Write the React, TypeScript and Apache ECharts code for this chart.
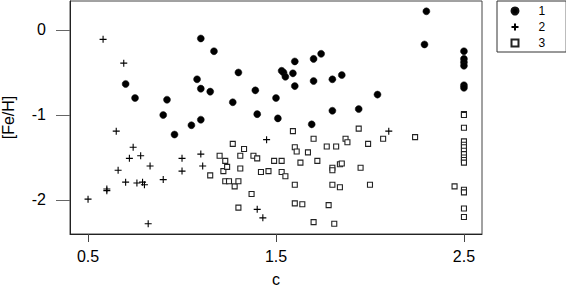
import React, { useEffect, useRef } from "react";
import * as echarts from "echarts";

const groupNames = ["1", "2", "3"];

const x1 = [0.70, 0.75, 0.90, 0.92, 0.96, 1.05, 1.08, 1.10, 1.10, 1.10, 1.15, 1.17, 1.27, 1.30, 1.39, 1.40, 1.50, 1.51, 1.53, 1.54, 1.55, 1.59, 1.60, 1.60, 1.69, 1.70, 1.70, 1.74, 1.80, 1.80, 1.85, 1.94, 2.04, 2.29, 2.30, 2.5, 2.5, 2.5, 2.5, 2.5, 2.5];
const y1 = [-0.635, -0.80, -1.00, -0.82, -1.23, -1.12, -0.58, -0.10, -0.69, -1.055, -0.725, -0.25, -0.85, -0.50, -0.71, -0.99, -0.80, -1.04, -0.48, -0.50, -0.55, -0.51, -0.37, -0.66, -1.11, -0.34, -0.60, -0.28, -0.58, -0.95, -0.53, -0.93, -0.76, -0.17, 0.22, -0.25, -0.34, -0.38, -0.42, -0.65, -0.68];

const x2 = [0.50, 0.58, 0.60, 0.60, 0.65, 0.66, 0.69, 0.70, 0.72, 0.74, 0.76, 0.78, 0.79, 0.80, 0.82, 0.83, 0.90, 1.00, 1.00, 1.10, 1.11, 1.40, 1.43, 1.45, 2.10];
const y2 = [-1.99, -0.11, -1.87, -1.89, -1.19, -1.65, -0.39, -1.79, -1.51, -1.38, -1.80, -1.48, -1.79, -1.82, -2.28, -1.60, -1.76, -1.51, -1.66, -1.46, -1.60, -2.11, -2.21, -1.29, -1.19];

const x3 = [1.15, 1.20, 1.22, 1.23, 1.23, 1.24, 1.25, 1.27, 1.28, 1.30, 1.30, 1.31, 1.31, 1.33, 1.37, 1.38, 1.40, 1.42, 1.46, 1.49, 1.53, 1.53, 1.55, 1.59, 1.60, 1.60, 1.60, 1.61, 1.63, 1.64, 1.67, 1.70, 1.70, 1.72, 1.77, 1.78, 1.80, 1.80, 1.80, 1.81, 1.82, 1.84, 1.84, 1.85, 1.87, 1.88, 1.94, 1.95, 1.99, 2.00, 2.07, 2.24, 2.45, 2.5, 2.5, 2.5, 2.5, 2.5, 2.5, 2.5, 2.5, 2.5, 2.5, 2.5, 2.5, 2.5, 2.5, 2.5];
const y3 = [-1.71, -1.48, -1.66, -1.54, -1.78, -1.61, -1.78, -1.34, -1.84, -1.78, -2.09, -1.48, -1.63, -1.40, -1.93, -1.48, -1.51, -1.67, -1.66, -1.54, -1.54, -1.67, -1.72, -1.19, -1.38, -1.82, -2.04, -1.43, -1.56, -2.05, -1.44, -1.28, -2.26, -1.54, -1.37, -2.06, -1.62, -1.65, -1.82, -2.28, -1.37, -1.58, -1.85, -1.57, -1.28, -1.32, -1.16, -1.62, -1.34, -1.82, -1.28, -1.26, -1.84, -0.99, -1.00, -1.15, -1.31, -1.35, -1.38, -1.42, -1.46, -1.50, -1.53, -1.56, -1.88, -1.91, -2.10, -2.20];

const xTicks = [0.5, 1.5, 2.5];
const yTicks = [0, -1, -2];

const pairs = (xs: number[], ys: number[]) => xs.map((x, i) => [x, ys[i]]);

const FONT = "'Liberation Sans', Arial, Helvetica, sans-serif";

export default function App() {
  const ref = useRef<HTMLDivElement>(null);
  useEffect(() => {
    if (!ref.current) return;
    document.body.style.margin = "0";
    const chart = echarts.init(ref.current, undefined, { renderer: "svg" });
    chart.setOption({
      animation: false,
      backgroundColor: "#ffffff",
      textStyle: { fontFamily: FONT },
      grid: {
        left: 70,
        right: 84,
        top: 1,
        bottom: 53,
        show: true,
        borderColor: "#444",
        borderWidth: 1,
        containLabel: false,
        outerBoundsMode: "none",
      },
      legend: {
        orient: "vertical",
        left: 497,
        top: 1,
        data: groupNames,
        itemWidth: 7,
        itemHeight: 7,
        itemGap: 2,
        padding: [3, 21, 2, 12],
        borderColor: "#333",
        borderWidth: 1,
        inactiveColor: "#000",
        textStyle: {
          fontFamily: FONT,
          fontSize: 12,
          color: "#000",
          lineHeight: 14,
          padding: [0, 0, 0, 15],
        },
      },
      xAxis: {
        type: "value",
        min: 0.404,
        max: 2.596,
        name: "c",
        nameLocation: "middle",
        nameGap: 37,
        nameTextStyle: { fontFamily: FONT, fontSize: 16, color: "#000" },
        splitLine: { show: false },
        axisLine: { show: true, onZero: false, lineStyle: { color: "#222", width: 1 } },
        axisTick: {
          show: true,
          length: 8,
          customValues: xTicks,
          lineStyle: { color: "#444" },
        },
        axisLabel: {
          customValues: xTicks,
          margin: 14,
          fontFamily: FONT,
          fontSize: 16,
          color: "#000",
          formatter: (v: number) => v.toFixed(1),
        },
      },
      yAxis: {
        type: "value",
        min: -2.4,
        max: 0.341,
        name: "[Fe/H]",
        nameLocation: "middle",
        nameGap: 54,
        nameRotate: 90,
        nameTextStyle: { fontFamily: FONT, fontSize: 16, color: "#000" },
        splitLine: { show: false },
        axisLine: { show: true, onZero: false, lineStyle: { color: "#222", width: 1 } },
        axisTick: {
          show: true,
          length: 14,
          customValues: yTicks,
          lineStyle: { color: "#666" },
        },
        axisLabel: {
          customValues: yTicks,
          margin: 24,
          fontFamily: FONT,
          fontSize: 16,
          color: "#000",
          formatter: (v: number) => String(v),
        },
      },
      series: [
        {
          name: groupNames[0],
          type: "scatter",
          data: pairs(x1, y1),
          symbol: "circle",
          symbolSize: 7,
          itemStyle: { color: "#000", borderColor: "#111", borderWidth: 0.5, opacity: 1 },
        },
        {
          name: groupNames[1],
          type: "scatter",
          data: pairs(x2, y2),
          symbol: "path://M0,5L10,5M5,0L5,10",
          symbolSize: 7,
          itemStyle: { color: "none", borderColor: "#000", borderWidth: 1.1, opacity: 1 },
        },
        {
          name: groupNames[2],
          type: "scatter",
          data: pairs(x3, y3),
          symbol: "rect",
          symbolSize: 5,
          itemStyle: { color: "#fff", borderColor: "#222", borderWidth: 1.1, opacity: 1 },
        },
      ],
    });
    return () => chart.dispose();
  }, []);
  return (
    <div
      ref={ref}
      style={{ width: 566, height: 287, position: "absolute", left: 0, top: 0 }}
    />
  );
}
